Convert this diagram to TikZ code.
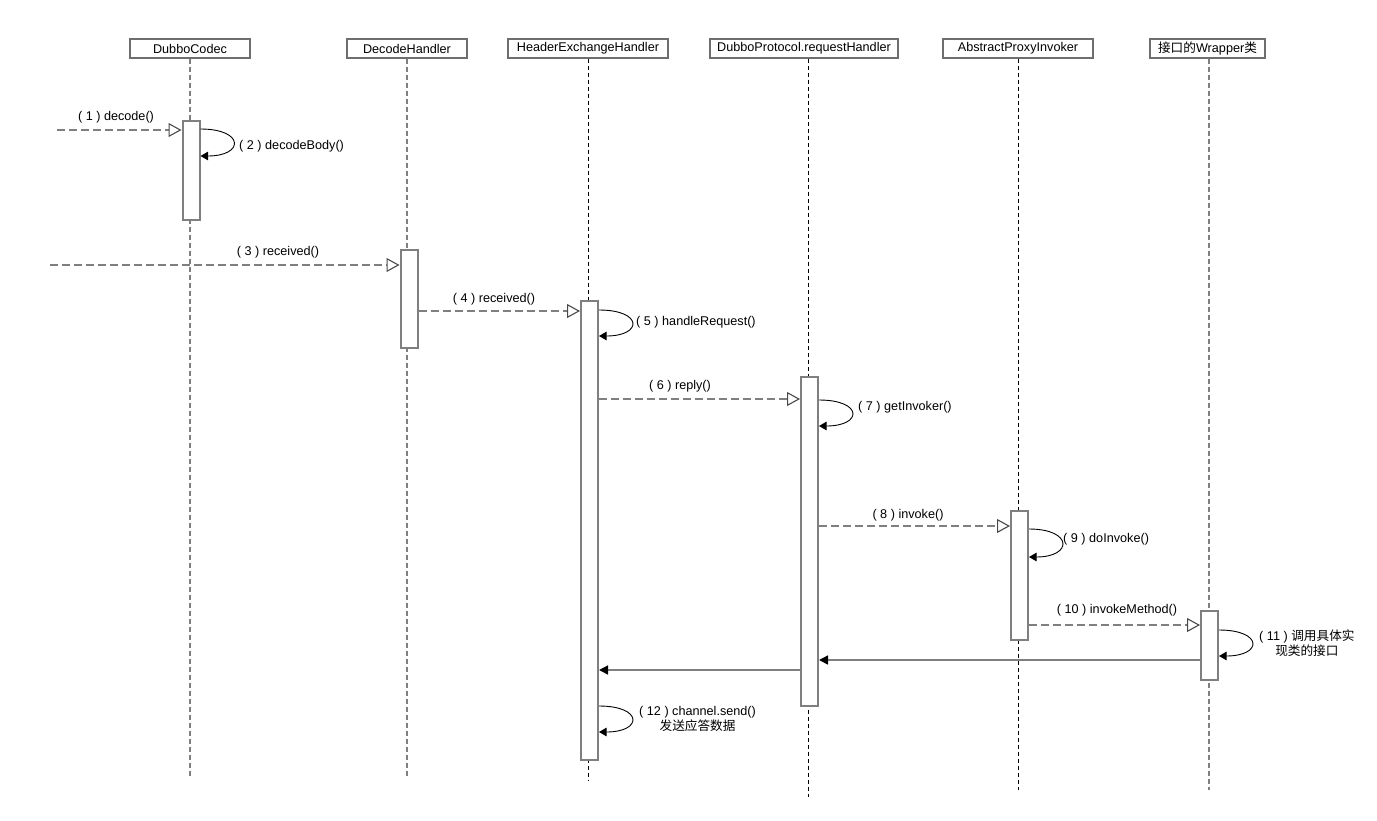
\documentclass[tikz,border=0pt]{standalone}
\usepackage{fontspec}
\setmainfont{Liberation Sans}
\newfontfamily\cjk{Noto Sans CJK SC}
\usetikzlibrary{arrows.meta}
\definecolor{lgray}{HTML}{7F7F7F}
\definecolor{hgray}{HTML}{6E6E6E}
\definecolor{tipgray}{HTML}{4A4A4A}
\tikzset{
  hdr/.style={draw=hgray, line width=1.3pt, minimum height=19pt, inner sep=0pt, fill=white, font=\fontsize{12.65}{14.5}\selectfont},
  act/.style={draw=lgray, line width=2pt, minimum width=17pt, inner sep=0pt, fill=white},
  lifeg/.style={draw=lgray, line width=1.4pt, dash pattern=on 5pt off 3pt},
  lifeb/.style={draw=black, line width=0.9pt, dash pattern=on 4pt off 3pt},
  msg/.style={draw=lgray, line width=1.5pt, dash pattern=on 8pt off 4pt,
    -{Triangle[open, length=13pt, width=14pt, line width=1.1pt, color=tipgray, fill=white]}},
  selfloop/.style={draw=black, line width=0.9pt, -{Triangle[length=7.5pt, width=8.5pt]}},
  ret/.style={draw=lgray, line width=1.5pt, -{Triangle[length=9pt, width=9pt, color=black]}},
  lbl/.style={inner sep=0pt, font=\fontsize{12.65}{14.5}\selectfont, text=black},
  lbll/.style={lbl, anchor=west, align=center}
}
\begin{document}
\begin{tikzpicture}[x=1pt, y=-1pt]
\useasboundingbox (0,0) rectangle (1377,820);
\fill[white] (0,0) rectangle (1377,820);

% headers
\node[hdr, minimum width=120pt] (h1) at (190,48.5) {DubboCodec};
\node[hdr, minimum width=120pt] (h2) at (407,48.5) {DecodeHandler};
\node[hdr, minimum width=160pt] (h3) at (588,48.5) {HeaderExchangeHandler};
\node[hdr, minimum width=188pt] (h4) at (804,48.5) {DubboProtocol.requestHandler};
\node[hdr, minimum width=150pt] (h5) at (1018,48.5) {AbstractProxyInvoker};
\node[hdr, minimum width=115pt] (h6) at (1207.5,48.5) {{\cjk 接口的}Wrapper{\cjk 类}};

% lifeline ends
\coordinate (e1) at (190,778);
\coordinate (e2) at (407,778);
\coordinate (e3) at (588,780);
\coordinate (e4) at (808,797);
\coordinate (e5) at (1018,790);
\coordinate (e6) at (1209,790);
\draw[lifeg] (h1.south -| e1) -- (e1);
\draw[lifeg] (h2.south -| e2) -- (e2);
\draw[lifeb] (h3.south -| e3) -- (e3);
\draw[lifeb] (h4.south -| e4) -- (e4);
\draw[lifeb] (h5.south -| e5) -- (e5);
\draw[lifeg] (h6.south -| e6) -- (e6);

% activations
\node[act, minimum height=99pt] (a1) at (191,170) {};
\node[act, minimum height=98pt] (a2) at (409,299) {};
\node[act, minimum height=459pt] (a3) at (589.5,530) {};
\node[act, minimum height=329pt] (a4) at (809.5,541) {};
\node[act, minimum height=129pt] (a5) at (1019.5,575) {};
\node[act, minimum height=69pt] (a6) at (1209.5,645) {};

% free ends
\coordinate (s1) at (57,130);
\coordinate (s3) at (50,265);

% messages
\draw[msg] (s1) -- (a1.west |- 0,130);
\node[lbl] (l1) at (116,117) {( 1 ) decode()};

\draw[selfloop] (a1.east |- 0,129) .. controls +(44,0) and +(44,0) .. (a1.east |- 0,156);
\node[lbll] (l2) at (239,146) {( 2 ) decodeBody()};

\draw[msg] (s3) -- (a2.west |- 0,265);
\node[lbl] (l3) at (278,252) {( 3 ) received()};

\draw[msg] (a2.east |- 0,311) -- (a3.west |- 0,311);
\node[lbl] (l4) at (494,299) {( 4 ) received()};

\draw[selfloop] (a3.east |- 0,310) .. controls +(44,0) and +(44,0) .. (a3.east |- 0,336);
\node[lbll] (l5) at (636,322) {( 5 ) handleRequest()};

\draw[msg] (a3.east |- 0,399) -- (a4.west |- 0,399);
\node[lbl] (l6) at (680,386) {( 6 ) reply()};

\draw[selfloop] (a4.east |- 0,400) .. controls +(44,0) and +(44,0) .. (a4.east |- 0,426);
\node[lbll] (l7) at (858,407) {( 7 ) getInvoker()};

\draw[msg] (a4.east |- 0,526) -- (a5.west |- 0,526);
\node[lbl] (l8) at (908,515) {( 8 ) invoke()};

\draw[selfloop] (a5.east |- 0,529) .. controls +(44,0) and +(44,0) .. (a5.east |- 0,557);
\node[lbll] (l9) at (1063,539) {( 9 ) doInvoke()};

\draw[msg] (a5.east |- 0,625) -- (a6.west |- 0,625);
\node[lbl] (l10) at (1117,610) {( 10 ) invokeMethod()};

\draw[selfloop] (a6.east |- 0,630) .. controls +(44,0) and +(44,0) .. (a6.east |- 0,656);
\node[lbll] (l11) at (1259,643) {( 11 ) {\cjk 调用具体实}\\{\cjk 现类的接口}};

\draw[ret] (a6.west |- 0,660) -- (a4.east |- 0,660);
\draw[ret] (a4.west |- 0,670) -- (a3.east |- 0,670);

\draw[selfloop] (a3.east |- 0,706) .. controls +(44,0) and +(44,0) .. (a3.east |- 0,732);
\node[lbll] (l12) at (639,719) {( 12 ) channel.send()\\{\cjk 发送应答数据}};
\end{tikzpicture}
\end{document}
